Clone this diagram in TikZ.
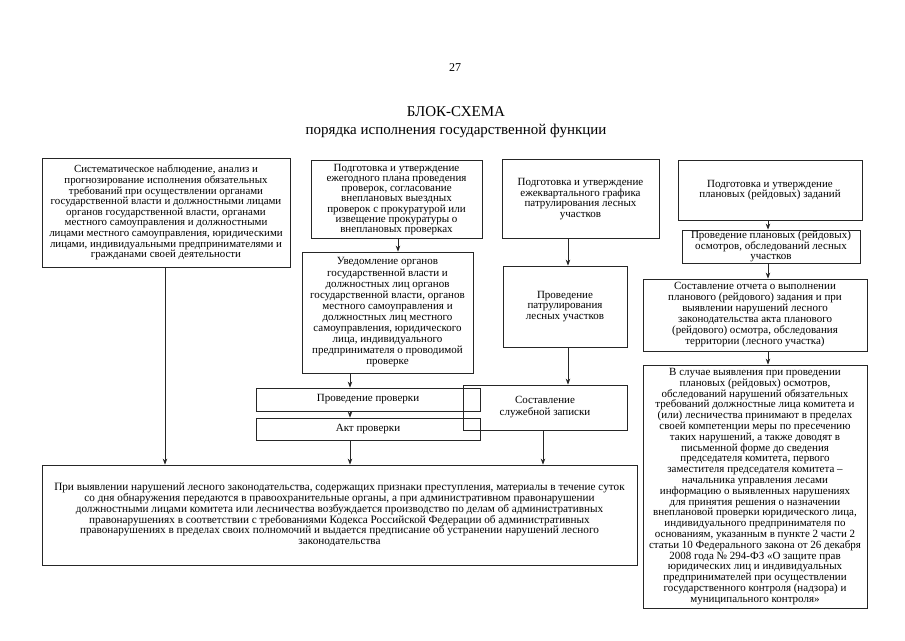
\documentclass[tikz,border=0pt]{standalone}
\usepackage{fontspec}
\setmainfont{Liberation Serif}
\usetikzlibrary{arrows.meta}
\begin{document}
\begin{tikzpicture}[x=1pt,y=-1pt,
  blk/.style={draw=black!85, line width=0.8pt, inner sep=0pt, align=center, font=\fontsize{11}{10.8}\selectfont},
  arr/.style={draw=black!85, line width=0.8pt, -{Stealth[length=6pt,width=4.5pt]}},
  ttl/.style={font=\fontsize{15}{17}\selectfont, inner sep=0pt}]
\useasboundingbox[fill=white] (0,0) rectangle (905,640);
\node[font=\fontsize{12}{14}\selectfont, inner sep=0pt] (pg) at (455,68) {27};
\node[ttl] (t1) at (456,112) {БЛОК-СХЕМА};
\node[ttl] (t2) at (456,131) {порядка исполнения государственной функции};

\node[blk, font=\fontsize{10.9}{10.6}\selectfont, minimum width=248, minimum height=109] (b1) at (166,212.5) {Систематическое наблюдение, анализ и\\прогнозирование исполнения обязательных\\требований при осуществлении органами\\государственной власти и должностными лицами\\органов государственной власти, органами\\местного самоуправления и должностными\\лицами местного самоуправления, юридическими\\лицами, индивидуальными предпринимателями и\\гражданами своей деятельности};

\node[blk, font=\fontsize{11}{10.1}\selectfont, minimum width=171, minimum height=78] (b2) at (396.5,199.5) {Подготовка и утверждение\\ежегодного плана проведения\\проверок, согласование\\внеплановых выездных\\проверок с прокуратурой или\\извещение прокуратуры о\\внеплановых проверках};

\node[blk, minimum width=157, minimum height=79] (b3) at (580.5,199) {Подготовка и утверждение\\ежеквартального графика\\патрулирования лесных\\участков};

\node[blk, minimum width=184, minimum height=60] (b4) at (770,190) {Подготовка и утверждение\\плановых (рейдовых) заданий};

\node[blk, minimum width=178, minimum height=33] (b5) at (771,246.5) {Проведение плановых (рейдовых)\\осмотров, обследований лесных\\участков};

\node[blk, font=\fontsize{11}{11}\selectfont, minimum width=224, minimum height=72] (b6) at (755,315) {Составление отчета о выполнении\\планового (рейдового) задания и при\\выявлении нарушений лесного\\законодательства акта планового\\(рейдового) осмотра, обследования\\территории (лесного участка)};

\node[blk, font=\fontsize{11}{10.8}\selectfont, minimum width=224, minimum height=243] (b7) at (755,486.5) {В случае выявления при проведении\\плановых (рейдовых) осмотров,\\обследований нарушений обязательных\\требований должностные лица комитета и\\(или) лесничества принимают в пределах\\своей компетенции меры по пресечению\\таких нарушений, а также доводят в\\письменной форме до сведения\\председателя комитета, первого\\заместителя председателя комитета –\\начальника управления лесами\\информацию о выявленных нарушениях\\для принятия решения о назначении\\внеплановой проверки юридического лица,\\индивидуального предпринимателя по\\основаниям, указанным в пункте 2 части 2\\статьи 10 Федерального закона от 26 декабря\\2008 года № 294-ФЗ «О защите прав\\юридических лиц и индивидуальных\\предпринимателей при осуществлении\\государственного контроля (надзора) и\\муниципального контроля»};

\node[blk, font=\fontsize{11}{11.1}\selectfont, minimum width=171, minimum height=121] (u) at (387.5,312.5) {Уведомление органов\\государственной власти и\\должностных лиц органов\\государственной власти, органов\\местного самоуправления и\\должностных лиц местного\\самоуправления, юридического\\лица, индивидуального\\предпринимателя о проводимой\\проверке};

\node[blk, minimum width=124, minimum height=81] (p) at (565,306.5) {Проведение\\патрулирования\\лесных участков};

\node[blk, font=\fontsize{11}{12}\selectfont, minimum width=164, minimum height=45] (s) at (545,407.5) {Составление\\служебной записки};

\node[blk, minimum width=224, minimum height=23] (pp) at (368,399.5) {Проведение проверки};

\node[blk, minimum width=224, minimum height=22] (a) at (368,429) {Акт проверки};

\node[blk, font=\fontsize{11.2}{10.8}\selectfont, minimum width=595, minimum height=100] (bot) at (339.5,515) {При выявлении нарушений лесного законодательства, содержащих признаки преступления, материалы в течение суток\\со дня обнаружения передаются в правоохранительные органы, а при административном правонарушении\\должностными лицами комитета или лесничества возбуждается производство по делам об административных\\правонарушениях в соответствии с требованиями Кодекса Российской Федерации об административных\\правонарушениях в пределах своих полномочий и выдается предписание об устранении нарушений лесного\\законодательства};

\coordinate (xa) at (165,0);
\coordinate (xb) at (398,0);
\coordinate (xc) at (350,0);
\coordinate (xd) at (568,0);
\coordinate (xe) at (543,0);
\coordinate (xf) at (768,0);

\draw[arr] (b1.south -| xa) -- (bot.north -| xa);
\draw[arr] (b2.south -| xb) -- (u.north -| xb);
\draw[arr] (u.south -| xc) -- (pp.north -| xc);
\draw[arr] (pp.south -| xc) -- (a.north -| xc);
\draw[arr] (a.south -| xc) -- (bot.north -| xc);
\draw[arr] (b3.south -| xd) -- (p.north -| xd);
\draw[arr] (p.south -| xd) -- (s.north -| xd);
\draw[arr] (s.south -| xe) -- (bot.north -| xe);
\draw[arr] (b4.south -| xf) -- (b5.north -| xf);
\draw[arr] (b5.south -| xf) -- (b6.north -| xf);
\draw[arr] (b6.south -| xf) -- (b7.north -| xf);
\end{tikzpicture}
\end{document}
